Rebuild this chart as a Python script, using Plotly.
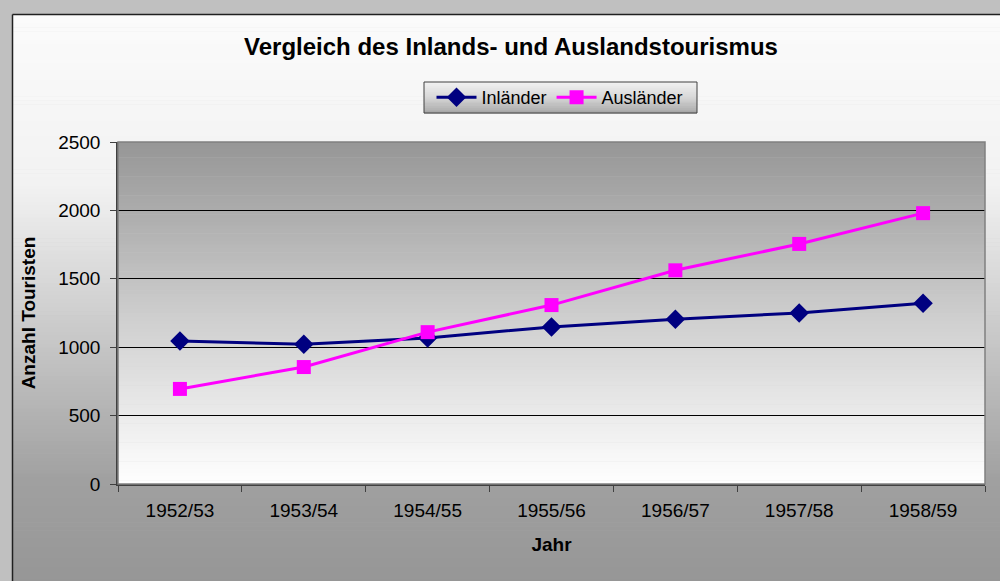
import plotly.graph_objects as go

# data
jahre = ["1952/53", "1953/54", "1954/55", "1955/56", "1956/57", "1957/58", "1958/59"]
inlaender = [1045, 1022, 1068, 1148, 1205, 1250, 1322]
auslaender = [695, 855, 1110, 1308, 1562, 1755, 1980]

W, H = 1000, 581
ML, MR, MT, MB = 118, 15, 142, 97
PW, PH = W - ML - MR, H - MT - MB


def px_x(px):
    return (px - ML) / PW


def px_y(py):
    return (H - MB - py) / PH


def mix(stops, t):
    # stops: list of (pos, gray value)
    for (p0, g0), (p1, g1) in zip(stops, stops[1:]):
        if p0 <= t <= p1:
            f = (t - p0) / (p1 - p0) if p1 > p0 else 0
            g = round(g0 + (g1 - g0) * f)
            return "rgb({0},{0},{0})".format(g)
    g = stops[-1][1]
    return "rgb({0},{0},{0})".format(g)


def gradient(x0, x1, y0, y1, stops, n):
    """vertical gradient, y0 top pixel, y1 bottom pixel"""
    out = []
    step = (y1 - y0) / n
    for i in range(n):
        top = y0 + i * step
        bot = top + step + 0.6
        t = (i + 0.5) / n
        out.append(dict(type="rect", xref="paper", yref="paper", layer="below",
                        x0=px_x(x0), x1=px_x(x1), y0=px_y(bot), y1=px_y(top),
                        fillcolor=mix(stops, t), line=dict(width=0)))
    return out


shapes = []
# chart area
shapes += gradient(13, 1002, 15, 583, [(0, 251), (0.3, 242), (0.82, 160), (1, 150)], 140)
shapes.append(dict(type="line", xref="paper", yref="paper", layer="below",
                   x0=px_x(12.5), x1=px_x(1002), y0=px_y(14.5), y1=px_y(14.5),
                   line=dict(color="#202020", width=1.5)))
shapes.append(dict(type="line", xref="paper", yref="paper", layer="below",
                   x0=px_x(12.5), x1=px_x(12.5), y0=px_y(14.5), y1=px_y(583),
                   line=dict(color="#202020", width=1.5)))
# plot area
shapes += gradient(118, 985, 142, 484, [(0, 150), (0.5, 205), (1, 255)], 90)
# legend box
shapes += gradient(424, 697, 82, 113, [(0, 242), (0.5, 215), (1, 165)], 16)
shapes.append(dict(type="rect", xref="paper", yref="paper", layer="below",
                   x0=px_x(424), x1=px_x(697), y0=px_y(113), y1=px_y(82),
                   line=dict(color="#404040", width=1)))
# plot area border
shapes.append(dict(type="rect", xref="paper", yref="paper", layer="above",
                   x0=0, x1=1, y0=0, y1=1,
                   line=dict(color="#808080", width=1.5)))

fig = go.Figure()
fig.add_trace(go.Scatter(x=jahre, y=inlaender, name="Inländer", mode="lines+markers",
                         line=dict(color="#000080", width=3),
                         marker=dict(symbol="diamond", size=15, color="#000080")))
fig.add_trace(go.Scatter(x=jahre, y=auslaender, name="Ausländer", mode="lines+markers",
                         line=dict(color="#ff00ff", width=3),
                         marker=dict(symbol="square", size=14, color="#ff00ff")))

fig.update_layout(
    width=W, height=H,
    margin=dict(l=ML, r=MR, t=MT, b=MB),
    paper_bgcolor="#c0c0c0",
    plot_bgcolor="rgba(0,0,0,0)",
    font=dict(family="Liberation Sans, Arial", size=19, color="black"),
    title=dict(text="<b>Vergleich des Inlands- und Auslandstourismus</b>",
               x=0.511, xanchor="center", y=1 - 47 / H, yanchor="middle",
               font=dict(size=24)),
    showlegend=True,
    legend=dict(orientation="h", x=px_x(560), xanchor="center",
                y=px_y(97.5), yanchor="middle", bgcolor="rgba(0,0,0,0)",
                borderwidth=0, font=dict(size=18), itemwidth=40,
                tracegroupgap=0),
    shapes=shapes,
)

fig.update_xaxes(
    type="category", range=[-0.5, len(jahre) - 0.5],
    tickson="boundaries", ticks="outside", ticklen=6,
    tickcolor="#404040", showline=True, linecolor="#404040", linewidth=1.5,
    showgrid=False, ticklabelstandoff=8,
    title=dict(text="<b>Jahr</b>", standoff=18, font=dict(size=19)),
)
fig.update_yaxes(
    range=[0, 2500], dtick=500, ticks="outside", ticklen=6, tickcolor="#404040",
    showline=True, linecolor="#404040", linewidth=1.5,
    showgrid=True, gridcolor="black", gridwidth=1, zeroline=False,
    ticklabelstandoff=6,
    title=dict(text="<b>Anzahl Touristen</b>", standoff=18, font=dict(size=19)),
)

fig.write_html("out.html", config={"displayModeBar": False},
               post_script="document.body.style.margin='0';")
